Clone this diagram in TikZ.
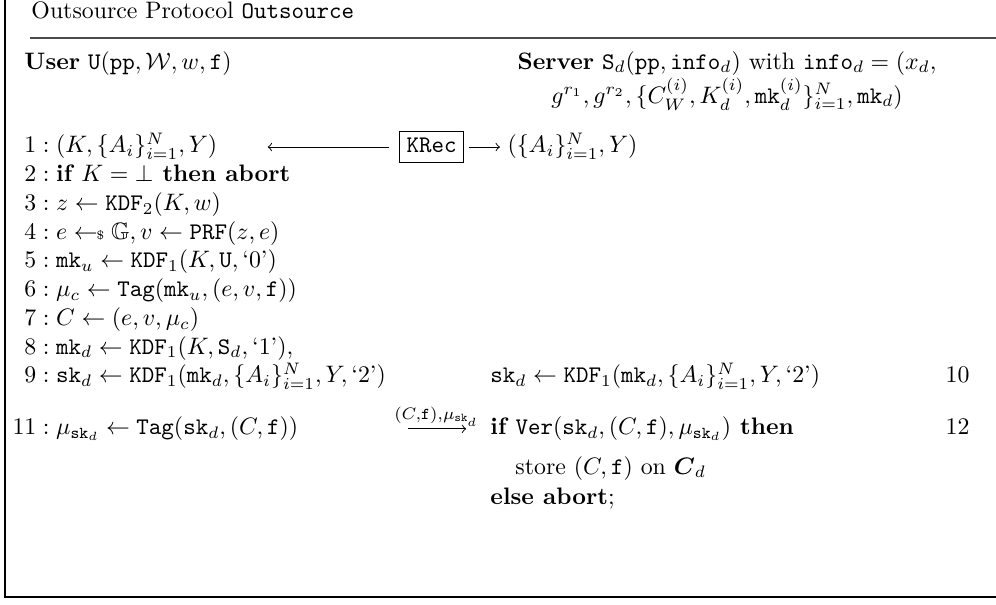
\documentclass[tikz,border=0pt]{standalone}
\usepackage{amsmath}
\usepackage{amssymb}
\usepackage{tikz}
\usetikzlibrary{arrows, positioning}
\newcommand{\lnum}[1]{\makebox[5pt][r]{$#1$}}
\newcommand{\smpl}{\mathrel{\gets\!\!\mbox{\tiny\$}}}
\tikzstyle{codeline} = [anchor=base west, inner sep=0pt, text height=7pt, text depth=2pt]
\tikzstyle{linenum} = [anchor=base east, inner sep=0pt]
\tikzstyle{heading} = [anchor=base, inner sep=0pt]
\tikzstyle{subproc} = [draw, inner sep=3pt, text height=6pt, text depth=1pt]
\tikzstyle{msg} = [->, >=to]

\begin{document}
\begin{tikzpicture}[x=0.42pt, y=-0.42pt, node distance=12.07pt]
  \useasboundingbox (0,0) rectangle (996,605);
  \draw [line width=0.6pt] (5,0) -- (5,597) -- (996,597);
  \node (title) [codeline] at (31,18) {Outsource Protocol \texttt{Outsource}};
  \draw [black!70, line width=0.6pt] (30,38) -- (996,38);

  \node (user) [codeline] at (24,69) {\textbf{User} $\mathtt{U}(\mathtt{pp}, \mathcal{W}, w, \mathtt{f})$};
  \node (srv) [heading] at (727,69) {\textbf{Server} $\mathtt{S}_d(\mathtt{pp}, \mathtt{info}_d)$ with $\mathtt{info}_d = (x_d,$};
  \node (srvinfo) [below=14.3pt of srv.base, heading] {$g^{r_1}, g^{r_2}, \{C_W^{(i)}, K_d^{(i)}, \mathtt{mk}_d^{(i)}\}_{i=1}^N, \mathtt{mk}_d)$};

  % user side
  \node (u1) [codeline] at (24,153) {$\lnum{1}: (K, \{A_i\}_{i=1}^N, Y)$};
  \node (krec) [subproc, anchor=west] at (399,0 |- u1) {\texttt{KRec}};
  \node (kout) [codeline, right=18pt of krec] {$(\{A_i\}_{i=1}^N, Y)$};
  \node (u2) [below=of u1.base west, codeline] {$\lnum{2}: \textbf{if }K = \bot\textbf{ then abort}$};
  \node (u3) [below=of u2.base west, codeline] {$\lnum{3}: z \gets \mathtt{KDF}_2(K, w)$};
  \node (u4) [below=of u3.base west, codeline] {$\lnum{4}: e \smpl \mathbb{G}, v \gets \mathtt{PRF}(z, e)$};
  \node (u5) [below=of u4.base west, codeline] {$\lnum{5}: \mathtt{mk}_u \gets \mathtt{KDF}_1(K, \mathtt{U}, \text{`0'})$};
  \node (u6) [below=of u5.base west, codeline] {$\lnum{6}: \mu_c \gets \mathtt{Tag}(\mathtt{mk}_u, (e, v, \mathtt{f}))$};
  \node (u7) [below=of u6.base west, codeline] {$\lnum{7}: C \gets (e, v, \mu_c)$};
  \node (u8) [below=of u7.base west, codeline] {$\lnum{8}: \mathtt{mk}_d \gets \mathtt{KDF}_1(K, \mathtt{S}_d, \text{`1'}),$};
  \node (u9) [below=of u8.base west, codeline] {$\lnum{9}: \mathtt{sk}_d \gets \mathtt{KDF}_1(\mathtt{mk}_d, \{A_i\}_{i=1}^N, Y, \text{`2'})$};
  \node (u11) [below=21.8pt of u9.base west, codeline] {$\lnum{11}: \mu_{\mathtt{sk}_d} \gets \mathtt{Tag}(\mathtt{sk}_d, (C, \mathtt{f}))$};

  % server side
  \node (s10) [codeline] at (490,0 |- u9.base) {$\mathtt{sk}_d \gets \mathtt{KDF}_1(\mathtt{mk}_d, \{A_i\}_{i=1}^N, Y, \text{`2'})$};
  \node (n10) [linenum] at (970,0 |- s10.base) {$10$};
  \node (s12) [codeline] at (490,0 |- u11.base) {$\textbf{if }\mathtt{Ver}(\mathtt{sk}_d, (C, \mathtt{f}), \mu_{\mathtt{sk}_d})\textbf{ then}$};
  \node (n12) [linenum] at (970,0 |- s12.base) {$12$};
  \node (store) [below=16.5pt of s12.base west, codeline, xshift=10.5pt] {store $(C, \mathtt{f})$ on $\boldsymbol{C}_d$};
  \node (abort) [below=12.6pt of store.base west, codeline, xshift=-10.5pt] {\textbf{else abort};};

  \draw [msg, shorten >=21pt, shorten <=4pt] (krec) -- (u1);
  \draw [msg, shorten <=2pt, shorten >=3pt] (krec) -- (kout);
  \draw [msg, shorten <=46pt, shorten >=10pt] (u11) -- node[pos=0.72, above=0pt, inner sep=1pt] {$\scriptstyle (C,\mathtt{f}),\mu_{\mathtt{sk}_d}$} (s12);
\end{tikzpicture}
\end{document}
